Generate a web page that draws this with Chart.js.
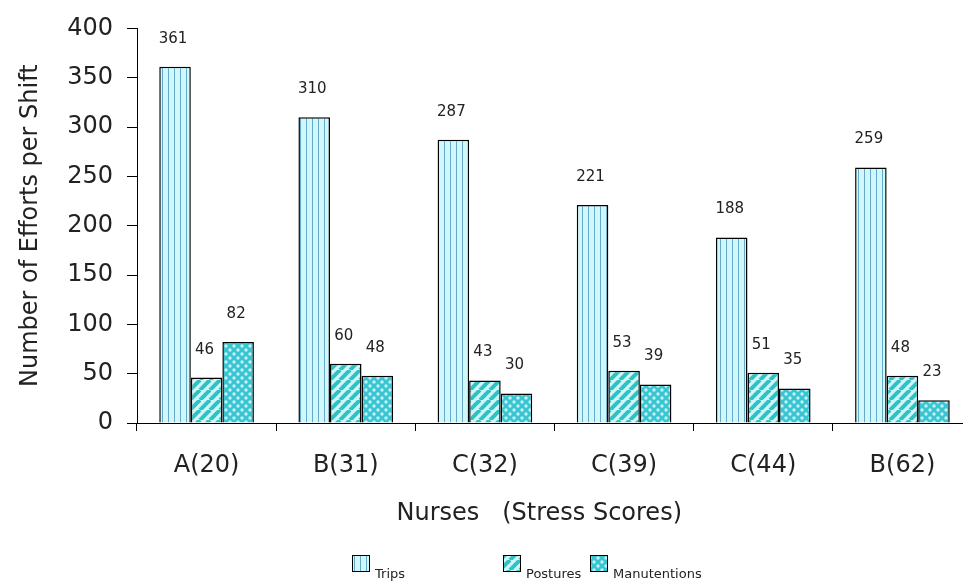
<!DOCTYPE html>
<html>
<head>
<meta charset="utf-8">
<script src="https://cdn.jsdelivr.net/npm/chart.js@4"></script>
<style>
  html, body { margin: 0; padding: 0; background: #fff; overflow: hidden; }
  #wrap { position: relative; width: 972px; height: 586px; }
</style>
</head>
<body>
<div id="wrap"><canvas id="chart" width="972" height="586"></canvas></div>
<script>
// --- Data ---
const nurses = ['A(20)', 'B(31)', 'C(32)', 'C(39)', 'C(44)', 'B(62)'];
const trips = [361, 310, 287, 221, 188, 259];
const postures = [46, 60, 43, 53, 51, 48];
const manutentions = [82, 48, 30, 39, 35, 23];
const seriesNames = ['Trips', 'Postures', 'Manutentions'];
const yTicks = [0, 50, 100, 150, 200, 250, 300, 350, 400];

const FONT = "'DejaVu Sans', sans-serif";

// --- Fill patterns (hatches like the old Excel chart) ---
function makePattern(w, h, paint) {
  const c = document.createElement('canvas');
  c.width = w; c.height = h;
  const g = c.getContext('2d');
  paint(g, w, h);
  return document.getElementById('chart').getContext('2d').createPattern(c, 'repeat');
}

const tripsFill = makePattern(6, 6, (g, w, h) => {
  g.fillStyle = '#d0f8fb';
  g.fillRect(0, 0, w, h);
  g.fillStyle = '#66aacb';
  g.fillRect(0, 0, 1, h);
});

const posturesFill = makePattern(10, 10, (g, w, h) => {
  g.fillStyle = '#d2f5f8';
  g.fillRect(0, 0, w, h);
  g.strokeStyle = '#2bc3c6';
  g.lineWidth = 4;
  for (let k = -1; k <= 1; k++) {
    g.beginPath();
    g.moveTo(k * w, h);
    g.lineTo(k * w + w, 0);
    g.stroke();
  }
});

const manutFill = makePattern(8, 8, (g, w, h) => {
  g.fillStyle = '#38c6d2';
  g.fillRect(0, 0, w, h);
  g.fillStyle = '#c6f1f6';
  [[2, 2], [6, 6]].forEach(([x, y]) => {
    g.beginPath();
    g.arc(x, y, 1.7, 0, Math.PI * 2);
    g.fill();
  });
});

const fills = [tripsFill, posturesFill, manutFill];

// value labels above each bar
const valueLabels = {
  id: 'valueLabels',
  afterDatasetsDraw(chart) {
    const ctx = chart.ctx;
    ctx.save();
    ctx.font = '15px ' + FONT;
    ctx.fillStyle = '#222';
    ctx.textAlign = 'center';
    ctx.textBaseline = 'middle';
    chart.data.datasets.forEach((ds, i) => {
      chart.getDatasetMeta(i).data.forEach((bar, j) => {
        ctx.fillText(ds.data[j], bar.x - 2, bar.y - 28);
      });
    });
    ctx.restore();
  }
};

// legend along the bottom, spaced like the original
const legendX = [352, 503, 590];
const bottomLegend = {
  id: 'bottomLegend',
  afterDraw(chart) {
    const ctx = chart.ctx;
    ctx.save();
    ctx.font = '13px ' + FONT;
    ctx.textBaseline = 'middle';
    chart.data.datasets.forEach((ds, i) => {
      const x = legendX[i];
      ctx.fillStyle = ds.backgroundColor;
      ctx.fillRect(x, 555, 18, 17);
      ctx.strokeStyle = '#000';
      ctx.lineWidth = 1;
      ctx.strokeRect(x + 0.5, 555.5, 17, 16);
      ctx.fillStyle = '#222';
      ctx.fillText(ds.label, x + 23, 575);
    });
    ctx.restore();
  }
};

const chartConfig = {
  type: 'bar',
  data: {
    labels: nurses,
    datasets: [trips, postures, manutentions].map((vals, i) => ({
      label: seriesNames[i],
      data: vals,
      backgroundColor: fills[i],
      borderColor: '#000',
      borderWidth: 1.5,
      borderSkipped: 'bottom',
      barPercentage: 1,
      categoryPercentage: 0.68
    }))
  },
  options: {
    responsive: false,
    animation: false,
    layout: { padding: { top: 28, left: 0, right: 0, bottom: 57.6 } },
    plugins: {
      legend: { display: false },
      tooltip: { enabled: false }
    },
    scales: {
      x: {
        grid: { display: true, drawOnChartArea: false, drawTicks: true, tickLength: 8, color: '#000', offset: true },
        border: { display: true, color: '#000', width: 1 },
        ticks: { font: { family: FONT, size: 24 }, color: '#222', padding: 19.9, maxRotation: 0 },
        title: {
          display: true,
          text: 'Nurses   (Stress Scores)    ',
          font: { family: FONT, size: 24 },
          color: '#222',
          padding: { top: 0, bottom: 0 }
        }
      },
      y: {
        min: 0,
        max: 400,
        afterBuildTicks: (scale) => { scale.ticks = yTicks.map(v => ({ value: v })); },
        afterFit: (scale) => { scale.width = 137; },
        grid: { display: true, drawOnChartArea: false, drawTicks: true, tickLength: 10, color: '#000' },
        border: { display: true, color: '#000', width: 1 },
        ticks: { font: { family: FONT, size: 24 }, color: '#222', padding: 14 },
        title: {
          display: true,
          text: 'Number of Efforts per Shift',
          font: { family: FONT, size: 24 },
          color: '#222',
          padding: { top: 16, bottom: 0 }
        }
      }
    }
  },
  plugins: [valueLabels, bottomLegend]
};

new Chart(document.getElementById('chart').getContext('2d'), chartConfig);
</script>
</body>
</html>
